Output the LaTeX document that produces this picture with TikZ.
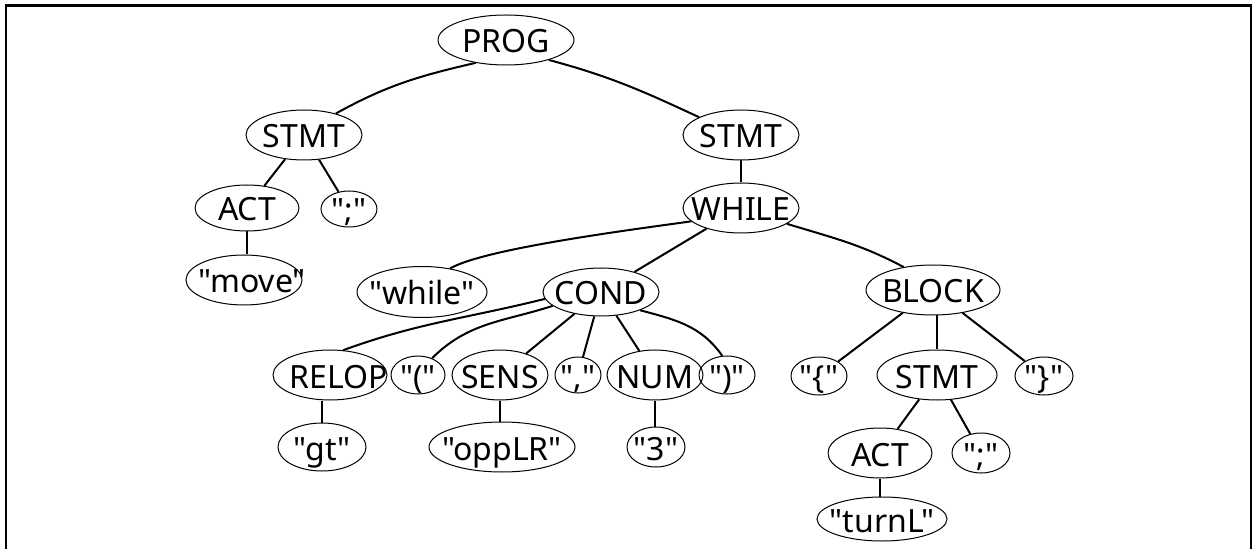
\documentclass[tikz,border=0pt]{standalone}
\usepackage{fontspec}
\setmainfont{Noto Sans}[Ligatures=TeXOff]
\usetikzlibrary{shapes.geometric}
\newcommand{\ntxt}[2][0pt]{\makebox[0pt]{\hspace*{#1}\smash{\raisebox{-7.8pt}{#2}}}}
\begin{document}
\begin{tikzpicture}[x=0.6pt,y=0.6pt,
  el/.style 2 args={draw, ellipse, line width=0.6pt, inner sep=0pt,
    minimum width=#1*0.6pt, minimum height=#2*0.6pt,
    font=\fontsize{19.2pt}{23pt}\selectfont},
  edge/.style={line width=1.2pt},
  frame/.style={line width=1.4pt}]
\useasboundingbox (0,0) rectangle (1252,-549);
\draw[frame] (6,-549) -- (6,-5.5) -- (1251,-5.5) -- (1251,-549);

\node[el={136}{50}] (prog)    at (506,-40)  {\ntxt{PROG}};
\node[el={116}{50}] (stmtl)   at (304,-135) {\ntxt{STMT}};
\node[el={104}{46}] (actl)    at (247,-208) {\ntxt{ACT}};
\node[el={56}{36}]  (semil)   at (349,-209) {\ntxt{";"}};
\node[el={116}{50}] (move)    at (244,-280) {\ntxt[9.6pt]{"move"}};
\node[el={116}{50}] (stmtr)   at (741,-135) {\ntxt{STMT}};
\node[el={116}{50}] (while)   at (741,-208) {\ntxt{WHILE}};
\node[el={130}{51}] (whilekw) at (422,-292) {\ntxt{"while"}};
\node[el={116}{48}] (cond)    at (601,-292) {\ntxt{COND}};
\node[el={134}{50}] (block)   at (933,-290) {\ntxt{BLOCK}};
\node[el={114}{50}] (relop)   at (330,-375) {\ntxt[10.8pt]{RELOP}};
\node[el={54}{38}]  (lp)      at (418,-375) {\ntxt{"("}};
\node[el={96}{50}]  (sens)    at (500,-375) {\ntxt{SENS}};
\node[el={46}{36}]  (comma)   at (578,-375) {\ntxt{","}};
\node[el={96}{50}]  (num)     at (655,-375) {\ntxt{NUM}};
\node[el={56}{38}]  (rp)      at (727,-375) {\ntxt{")"}};
\node[el={88}{48}]  (gt)      at (322,-447) {\ntxt{"gt"}};
\node[el={146}{50}] (opp)     at (502,-447) {\ntxt{"oppLR"}};
\node[el={58}{40}]  (three)   at (656,-447) {\ntxt{"3"}};
\node[el={56}{38}]  (lb)      at (819,-376) {\ntxt{"\{"}};
\node[el={120}{50}] (stmt2)   at (937,-375) {\ntxt{STMT}};
\node[el={58}{38}]  (rb)      at (1044,-376) {\ntxt{"\}"}};
\node[el={104}{50}] (act2)    at (880,-453) {\ntxt{ACT}};
\node[el={58}{40}]  (semi2)   at (981,-453) {\ntxt{";"}};
\node[el={130}{44}] (turnl)   at (882,-519) {\ntxt{"turnL"}};

\draw[edge] (prog.217) to[out=193,in=29] (stmtl.34);
\draw[edge] (prog.335) to[out=345,in=155] (stmtr.157);
\draw[edge] (stmtl) -- (actl);
\draw[edge] (stmtl) -- (semil);
\draw[edge] (actl.south) -- (actl.south |- move.north);
\draw[edge] (stmtr) -- (while);
\draw[edge] (while.195) .. controls +(188:60) and +(30:40) .. (whilekw.40);
\draw[edge] (while) -- (cond);
\draw[edge] (while.341) to[out=343,in=152] (block.142);
\draw[edge] (cond.187) to[out=194,in=20] (relop.62);
\draw[edge] (cond.196) to[out=198,in=45] (lp.50);
\draw[edge] (cond) -- (sens);
\draw[edge] (cond) -- (comma);
\draw[edge] (cond) -- (num);
\draw[edge] (cond.335) to[out=345,in=125] (rp.104);
\draw[edge] (relop.south -| gt) -- (gt.north);
\draw[edge] (sens.south) -- (sens.south |- opp.north);
\draw[edge] (num.south) -- (num.south |- three.north);
\draw[edge] (block) -- (lb);
\draw[edge] (block.south -| stmt2) -- (stmt2.north);
\draw[edge] (block) -- (rb);
\draw[edge] (stmt2) -- (act2);
\draw[edge] (stmt2) -- (semi2);
\draw[edge] (act2.south) -- (act2.south |- turnl.north);
\end{tikzpicture}
\end{document}
